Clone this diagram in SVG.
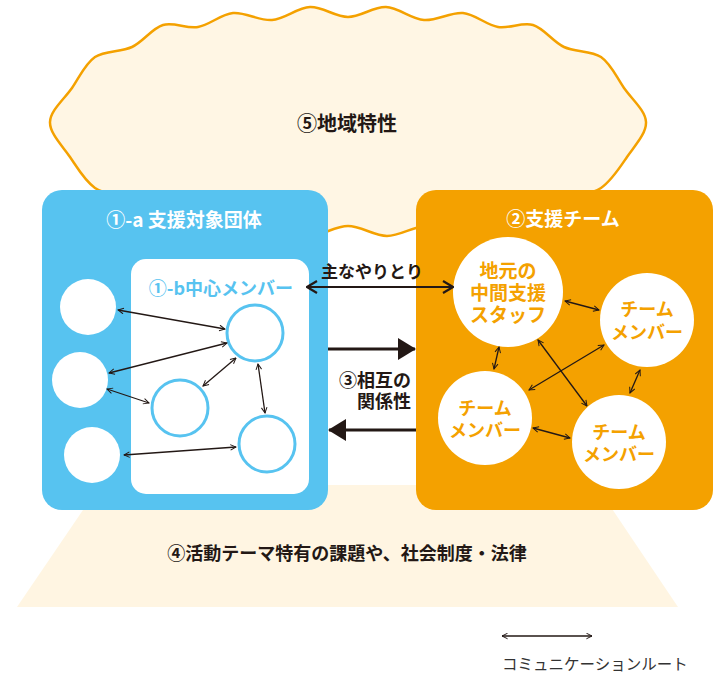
<svg xmlns="http://www.w3.org/2000/svg" width="724" height="673" viewBox="0 0 724 673">
<defs>
<style>
.t{font-family:"Noto Sans CJK JP","Noto Sans",sans-serif;font-weight:700;dominant-baseline:central;text-anchor:middle}
.dk{fill:#231815}
.wh{fill:#ffffff}
.or{fill:#F4A100}
.bl{fill:#57C3F0}
.c{stroke:#231815;stroke-width:1.3;fill:none;marker-start:url(#oh);marker-end:url(#oh)}
.wc{fill:#ffffff}
.ic{fill:#ffffff;stroke:#57C3F0;stroke-width:3}
</style>
<marker id="oh" viewBox="0 0 10 10" refX="9" refY="5" markerWidth="7" markerHeight="7" markerUnits="userSpaceOnUse" orient="auto-start-reverse">
<path d="M1,1 L9,5 L1,9" fill="none" stroke="#231815" stroke-width="1.4"/>
</marker>
<marker id="bh" viewBox="0 0 12 14" refX="11" refY="7" markerWidth="12" markerHeight="14" markerUnits="userSpaceOnUse" orient="auto-start-reverse">
<path d="M1,1 L11,7 L1,13" fill="none" stroke="#231815" stroke-width="2.2"/>
</marker>
<marker id="fh" viewBox="0 0 18 22" refX="17" refY="11" markerWidth="19" markerHeight="22" markerUnits="userSpaceOnUse" orient="auto">
<path d="M0,0 L18,11 L0,22 Z" fill="#231815"/>
</marker>
</defs>

<g id="region-theme">
<polygon points="100,485 596,485 678,607 17,607" fill="#FFF5E2"/>
<text class="t dk" x="347" y="552" font-size="18">④活動テーマ特有の課題や、社会制度・法律</text>
</g>

<g id="region-local">
<path d="M50,122 C50.3,110.5 64.5,98.8 72,88 C79.5,77.2 85,63.8 95,57 C105,50.2 120.7,52.3 132,47 C143.3,41.7 152,28.3 163,25 C174,21.7 186.3,29 198,27 C209.7,25 220.7,14.2 233,13 C245.3,11.8 259.2,21 272,20 C284.8,19 297.3,7.5 310,7 C322.7,6.5 335.3,17 348,17 C360.7,17 373.3,6.5 386,7 C398.7,7.5 411.2,19 424,20 C436.8,21 450.7,11.8 463,13 C475.3,14.2 486.3,25 498,27 C509.7,29 522,21.7 533,25 C544,28.3 552.7,41.7 564,47 C575.3,52.3 591,50.2 601,57 C611,63.8 616.5,77.2 624,88 C631.5,98.8 645.5,110.5 646,122 C646.5,133.5 634.5,146 627,157 C619.5,168 611.5,180.8 601,188 C590.5,195.2 575.3,195 564,200 C552.7,205 544,214.3 533,218 C522,221.7 509.7,220 498,222 C486.3,224 475.2,229.3 463,230 C450.8,230.7 437.7,225 425,226 C412.3,227 399.8,236 387,236 C374.2,236 361,226 348,226 C335,226 321.8,236 309,236 C296.2,236 283.7,227 271,226 C258.3,225 245.2,230.7 233,230 C220.8,229.3 209.7,224 198,222 C186.3,220 174,221.7 163,218 C152,214.3 143.3,205 132,200 C120.7,195 105.3,195.2 95,188 C84.7,180.8 77.5,168 70,157 C62.5,146 49.7,133.5 50,122 Z" fill="#FFF6E4" stroke="#F4A100" stroke-width="2.5"/>
<text class="t dk" x="347" y="122" font-size="20">⑤地域特性</text>
</g>

<g id="group-target">
<rect x="42" y="190" width="286" height="320" rx="20" fill="#57C3F0"/>
<text class="t wh" x="184" y="218" font-size="19">①-a 支援対象団体</text>
</g>
<g id="group-core">
<rect x="131" y="259" width="178" height="235" rx="15" fill="#ffffff"/>
<text class="t bl" x="221" y="287" font-size="18">①-b中心メンバー</text>
</g>
<g id="outer-1"><circle class="wc" cx="88" cy="307" r="28"/></g>
<g id="outer-2"><circle class="wc" cx="80" cy="380" r="28"/></g>
<g id="outer-3"><circle class="wc" cx="92" cy="455" r="28"/></g>
<g id="core-a"><circle class="ic" cx="255" cy="333" r="28"/></g>
<g id="core-b"><circle class="ic" cx="180" cy="408" r="28"/></g>
<g id="core-c"><circle class="ic" cx="267" cy="444" r="28"/></g>

<g id="group-team">
<rect x="416" y="190" width="297" height="320" rx="20" fill="#F4A100"/>
<text class="t wh" x="563" y="217" font-size="19">②支援チーム</text>
</g>
<g id="staff">
<circle class="wc" cx="508" cy="292" r="55"/>
<text class="t or" x="508" y="269" font-size="19">地元の</text>
<text class="t or" x="508" y="291" font-size="19">中間支援</text>
<text class="t or" x="508" y="313" font-size="19">スタッフ</text>
</g>
<g id="member-tr">
<circle class="wc" cx="647" cy="320" r="47"/>
<text class="t or" x="647" y="308" font-size="18">チーム</text>
<text class="t or" x="647" y="331" font-size="18">メンバー</text>
</g>
<g id="member-bl">
<circle class="wc" cx="485" cy="418" r="47"/>
<text class="t or" x="485" y="407" font-size="18">チーム</text>
<text class="t or" x="485" y="429" font-size="18">メンバー</text>
</g>
<g id="member-br">
<circle class="wc" cx="619" cy="442" r="47"/>
<text class="t or" x="619" y="431" font-size="18">チーム</text>
<text class="t or" x="619" y="453" font-size="18">メンバー</text>
</g>

<g id="connectors">
<line class="c" x1="118" y1="310" x2="225" y2="329"/>
<line class="c" x1="109" y1="373" x2="227" y2="343"/>
<line class="c" x1="107" y1="389" x2="149" y2="403"/>
<line class="c" x1="203" y1="386" x2="236" y2="358"/>
<line class="c" x1="258" y1="364" x2="265" y2="413"/>
<line class="c" x1="124" y1="455" x2="236" y2="447"/>
<line class="c" x1="565" y1="301" x2="599" y2="310"/>
<line class="c" x1="499" y1="347" x2="494" y2="369"/>
<line class="c" x1="640" y1="370" x2="630" y2="393"/>
<line class="c" x1="533" y1="428" x2="570" y2="438"/>
<line class="c" x1="538" y1="340" x2="587" y2="406"/>
<line class="c" x1="604" y1="345" x2="529" y2="390"/>
<line x1="307" y1="287" x2="453" y2="287" stroke="#231815" stroke-width="2.2" marker-start="url(#bh)" marker-end="url(#bh)"/>
<text class="t dk" x="372" y="270" font-size="17">主なやりとり</text>
<line x1="328" y1="349" x2="415" y2="349" stroke="#231815" stroke-width="3" marker-end="url(#fh)"/>
<line x1="416" y1="430" x2="329" y2="430" stroke="#231815" stroke-width="3" marker-end="url(#fh)"/>
<text class="t dk" x="411" y="379" font-size="18" style="text-anchor:end">③相互の</text>
<text class="t dk" x="411" y="400" font-size="18" style="text-anchor:end">関係性</text>
</g>

<g id="legend">
<line class="c" x1="502" y1="636" x2="592" y2="636"/>
<text x="502" y="663" font-family="'Noto Sans CJK JP','Noto Sans',sans-serif" font-size="15.5" fill="#333333" dominant-baseline="central">コミュニケーションルート</text>
</g>
</svg>
